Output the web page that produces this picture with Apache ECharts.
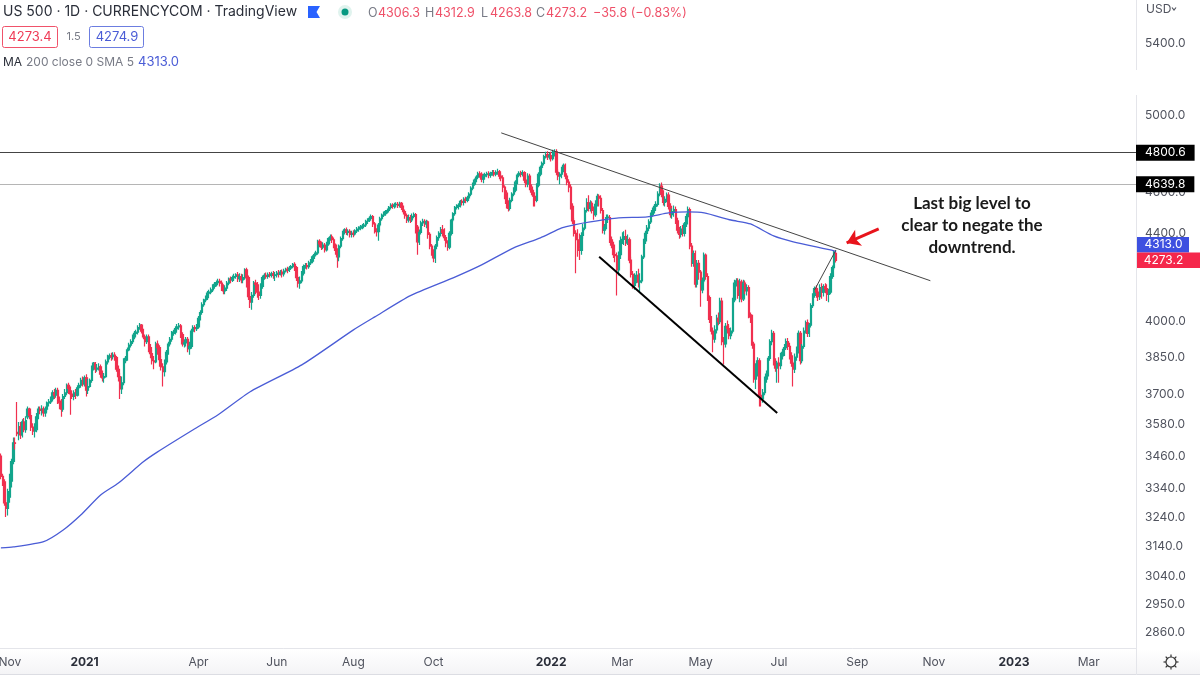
<!DOCTYPE html>
<html>
<head>
<meta charset="utf-8">
<style>html,body{margin:0;padding:0;background:#fff}#chart{width:1200px;height:675px}</style>
<script src="https://cdn.jsdelivr.net/npm/echarts@6/dist/echarts.min.js"></script>
</head>
<body>
<div id="chart"></div>
<script>
// daily candles, each row is [open, close, low, high]
const oct2020 = [[3460,3385,3375,3470],[3385,3365,3350,3395],[3365,3290,3280,3375],[3290,3270,3240,3300],[3270,3330,3245,3340]];
const nov2020 = [[3310,3368,3290,3395],[3368,3440,3345,3450],[3440,3510,3430,3530],[3510,3508,3485,3530],[3550,3545,3535,3668],[3545,3572,3520,3590],[3572,3540,3525,3590],[3540,3590,3530,3600],[3590,3560,3550,3605],[3560,3595,3548,3612],[3610,3640,3600,3650],[3640,3615,3600,3645],[3615,3570,3555,3628],[3570,3555,3540,3585],[3555,3560,3530,3585],[3560,3610,3550,3625],[3610,3640,3600,3650],[3640,3635,3620,3650],[3635,3640,3615,3655],[3640,3625,3610,3650],[3625,3640,3610,3650]];
const dec2020 = [[3640,3665,3630,3670],[3665,3669,3650,3680],[3669,3680,3660,3690],[3680,3705,3670,3715],[3705,3695,3680,3720],[3695,3715,3685,3725],[3715,3672,3660,3725],[3672,3665,3640,3690],[3665,3640,3610,3680],[3640,3690,3630,3700],[3690,3705,3680,3720],[3705,3735,3695,3742],[3735,3722,3700,3745],[3722,3700,3618,3730],[3700,3690,3680,3715],[3690,3705,3675,3715],[3705,3695,3680,3720],[3695,3725,3690,3735],[3725,3735,3720,3745],[3735,3755,3725,3765],[3755,3740,3730,3770],[3740,3765,3730,3775],[3765,3715,3690,3780]];
const jan2021 = [[3715,3730,3700,3760],[3730,3755,3725,3762],[3755,3805,3745,3815],[3805,3825,3795,3830],[3825,3800,3785,3830],[3800,3805,3790,3822],[3805,3810,3795,3825],[3810,3780,3765,3820],[3780,3765,3750,3795],[3765,3770,3745,3785],[3770,3830,3765,3840],[3830,3850,3820,3860],[3850,3855,3840,3865],[3855,3852,3835,3868],[3852,3858,3840,3870],[3858,3848,3835,3870],[3848,3800,3790,3855],[3800,3770,3750,3815],[3770,3720,3680,3785],[3720,3745,3700,3770],[3745,3835,3735,3845]];
const feb2021 = [[3835,3845,3825,3855],[3845,3880,3835,3890],[3880,3900,3875,3910],[3900,3915,3890,3925],[3915,3935,3905,3945],[3935,3950,3925,3960],[3950,3955,3940,3965],[3955,3975,3945,3985],[3975,3985,3965,3995],[3985,3960,3950,3990],[3960,3935,3925,3970],[3935,3915,3895,3945],[3915,3935,3905,3945],[3935,3890,3870,3945],[3890,3865,3845,3905],[3865,3835,3820,3880],[3835,3830,3800,3855],[3830,3905,3825,3915],[3905,3890,3860,3920],[3890,3840,3810,3900]];
const mar2021 = [[3840,3810,3795,3855],[3810,3790,3730,3825],[3790,3830,3770,3840],[3830,3870,3820,3880],[3870,3905,3860,3915],[3905,3925,3895,3935],[3925,3950,3915,3960],[3950,3955,3940,3965],[3955,3970,3945,3980],[3970,3978,3960,3990],[3978,3982,3965,3995],[3982,3945,3930,3990],[3945,3905,3895,3955],[3905,3910,3890,3925],[3910,3925,3895,3935],[3925,3885,3870,3935],[3885,3895,3860,3915],[3895,3960,3885,3970],[3960,3975,3950,3985],[3975,3970,3955,3985],[3970,3978,3960,3990],[3978,4015,3970,4025],[4015,4040,4005,4050]];
const apr2021 = [[4040,4074,4030,4085],[4074,4095,4065,4100],[4095,4105,4085,4115],[4105,4125,4095,4135],[4125,4130,4115,4140],[4130,4140,4120,4150],[4140,4155,4130,4165],[4155,4165,4145,4175],[4165,4172,4155,4182],[4172,4178,4160,4190],[4178,4170,4155,4190],[4170,4150,4135,4182],[4150,4135,4120,4165],[4135,4148,4120,4160],[4148,4170,4135,4180],[4170,4188,4160,4195],[4188,4185,4170,4200],[4185,4195,4175,4205],[4195,4200,4180,4212],[4200,4208,4190,4215],[4208,4190,4175,4220],[4190,4200,4175,4215],[4200,4185,4170,4212]];
const may2021 = [[4185,4195,4170,4210],[4195,4230,4185,4238],[4230,4195,4150,4240],[4195,4110,4095,4205],[4110,4085,4060,4125],[4085,4115,4052,4130],[4115,4170,4105,4180],[4170,4165,4120,4185],[4165,4130,4105,4175],[4130,4115,4095,4165],[4115,4155,4100,4170],[4155,4195,4145,4205],[4195,4205,4185,4215],[4205,4200,4190,4218],[4200,4208,4190,4218],[4208,4205,4195,4220],[4205,4212,4195,4222],[4212,4205,4190,4225],[4205,4208,4180,4220],[4208,4215,4195,4225],[4215,4210,4195,4230]];
const jun2021 = [[4210,4220,4205,4230],[4220,4212,4195,4232],[4212,4225,4200,4235],[4225,4232,4218,4240],[4232,4228,4215,4245],[4228,4238,4220,4248],[4238,4245,4230,4252],[4245,4255,4238,4262],[4255,4240,4225,4265],[4240,4195,4180,4248],[4195,4170,4150,4205],[4170,4180,4145,4200],[4180,4215,4170,4225],[4215,4245,4205,4255],[4245,4250,4235,4262],[4250,4245,4232,4262],[4245,4262,4235,4272],[4262,4270,4252,4280],[4270,4290,4260,4298],[4290,4300,4280,4310],[4300,4308,4292,4318]];
const jul2021 = [[4308,4362,4300,4370],[4362,4350,4335,4372],[4350,4335,4322,4362],[4335,4345,4325,4358],[4345,4322,4310,4355],[4322,4350,4315,4360],[4350,4375,4342,4382],[4375,4384,4365,4395],[4384,4370,4355,4395],[4370,4345,4330,4380],[4345,4320,4300,4352],[4320,4290,4240,4330],[4290,4340,4270,4348],[4340,4375,4330,4385],[4375,4405,4365,4412],[4405,4417,4395,4425],[4417,4405,4392,4428],[4405,4410,4390,4420],[4410,4395,4380,4420],[4395,4400,4380,4412],[4400,4398,4382,4415],[4398,4412,4390,4420]];
const aug2021 = [[4412,4420,4402,4430],[4420,4425,4408,4434],[4425,4430,4415,4440],[4430,4435,4420,4445],[4435,4440,4425,4450],[4440,4458,4430,4465],[4458,4465,4445,4472],[4465,4472,4455,4482],[4472,4480,4462,4490],[4480,4445,4430,4488],[4445,4415,4400,4455],[4415,4408,4385,4425],[4408,4440,4365,4450],[4440,4470,4430,4480],[4470,4488,4460,4495],[4488,4495,4478,4505],[4495,4505,4485,4512],[4505,4510,4495,4520],[4510,4525,4500,4532],[4525,4535,4515,4545],[4535,4530,4518,4545],[4530,4538,4520,4548]];
const sep2021 = [[4538,4540,4525,4550],[4540,4535,4522,4552],[4535,4545,4525,4553],[4545,4525,4512,4552],[4525,4505,4490,4535],[4505,4485,4470,4515],[4485,4464,4450,4495],[4464,4475,4452,4490],[4475,4465,4450,4488],[4465,4482,4455,4495],[4482,4490,4472,4500],[4490,4430,4400,4498],[4430,4360,4300,4440],[4360,4405,4345,4418],[4405,4450,4395,4460],[4450,4458,4435,4470],[4458,4445,4430,4468],[4445,4455,4425,4465],[4455,4395,4375,4462],[4395,4340,4325,4405],[4340,4310,4295,4350],[4310,4285,4265,4325]];
const oct2021 = [[4285,4340,4262,4350],[4340,4380,4325,4390],[4380,4400,4365,4410],[4400,4417,4385,4430],[4417,4405,4385,4440],[4405,4380,4365,4425],[4380,4355,4335,4392],[4355,4335,4318,4368],[4335,4400,4325,4410],[4400,4464,4390,4470],[4464,4495,4455,4502],[4495,4525,4485,4532],[4525,4530,4515,4540],[4530,4535,4515,4545],[4535,4555,4525,4562],[4555,4550,4535,4565],[4550,4565,4535,4575],[4565,4560,4545,4578],[4560,4572,4550,4582],[4572,4590,4560,4600],[4590,4620,4580,4630]];
const nov2021 = [[4620,4640,4610,4648],[4640,4660,4632,4668],[4660,4675,4650,4685],[4675,4692,4665,4702],[4692,4690,4672,4705],[4690,4665,4650,4700],[4665,4680,4645,4692],[4680,4688,4668,4698],[4688,4692,4675,4702],[4692,4685,4670,4705],[4685,4695,4672,4702],[4695,4698,4682,4712],[4698,4690,4678,4712],[4690,4700,4680,4710],[4700,4702,4688,4718],[4702,4680,4665,4712],[4680,4672,4655,4695],[4672,4625,4600,4685],[4625,4595,4565,4635],[4595,4545,4520,4610],[4545,4520,4505,4560],[4520,4560,4510,4572]];
const dec2021 = [[4560,4590,4550,4600],[4590,4610,4580,4625],[4610,4650,4600,4660],[4650,4685,4640,4695],[4685,4695,4675,4705],[4695,4690,4675,4708],[4690,4698,4678,4710],[4698,4660,4645,4705],[4660,4640,4625,4690],[4640,4680,4625,4695],[4680,4625,4610,4692],[4625,4600,4585,4640],[4600,4580,4530,4612],[4580,4560,4530,4600],[4560,4635,4550,4645],[4635,4690,4625,4700],[4690,4725,4680,4735],[4725,4745,4715,4755],[4745,4780,4735,4790],[4780,4790,4770,4805],[4790,4778,4762,4808],[4778,4785,4765,4800],[4785,4770,4755,4805]];
const jan2022 = [[4770,4790,4760,4815],[4790,4805,4780,4818],[4805,4700,4685,4818],[4700,4680,4660,4715],[4680,4690,4640,4700],[4690,4715,4670,4728],[4715,4735,4700,4745],[4735,4680,4665,4745],[4680,4650,4635,4695],[4650,4625,4600,4665],[4625,4530,4515,4640],[4530,4460,4445,4545],[4460,4400,4385,4475],[4400,4370,4215,4415],[4370,4330,4290,4420],[4330,4320,4275,4400],[4320,4390,4300,4405],[4390,4425,4375,4445],[4425,4510,4415,4525],[4510,4548,4500,4570],[4548,4520,4505,4585]];
const feb2022 = [[4520,4545,4505,4560],[4545,4510,4495,4555],[4510,4490,4465,4530],[4490,4540,4480,4560],[4540,4580,4530,4592],[4580,4570,4530,4590],[4570,4510,4495,4585],[4510,4415,4400,4522],[4415,4430,4395,4445],[4430,4475,4420,4490],[4475,4478,4450,4490],[4475,4370,4355,4488],[4370,4345,4330,4385],[4345,4300,4285,4360],[4300,4295,4265,4320],[4295,4230,4115,4310],[4230,4300,4205,4315],[4300,4365,4280,4385],[4365,4372,4350,4405],[4372,4385,4345,4410]];
const mar2022 = [[4385,4355,4340,4417],[4355,4370,4345,4395],[4370,4275,4260,4380],[4275,4210,4195,4290],[4210,4160,4145,4225],[4160,4200,4140,4215],[4200,4205,4170,4225],[4205,4175,4150,4235],[4175,4180,4130,4215],[4180,4290,4170,4300],[4290,4365,4280,4375],[4365,4400,4350,4412],[4400,4425,4385,4440],[4425,4455,4410,4468],[4455,4490,4445,4500],[4490,4510,4480,4525],[4510,4530,4495,4542],[4530,4540,4515,4555],[4540,4590,4530,4605],[4590,4630,4580,4645],[4630,4590,4575,4648],[4590,4550,4535,4610],[4550,4565,4530,4580]];
const apr2022 = [[4565,4585,4550,4598],[4585,4530,4515,4600],[4530,4490,4475,4545],[4490,4505,4470,4520],[4505,4515,4480,4535],[4515,4460,4445,4530],[4460,4415,4400,4475],[4415,4395,4375,4430],[4395,4420,4380,4435],[4420,4400,4385,4440],[4400,4445,4385,4455],[4445,4480,4430,4495],[4480,4515,4470,4530],[4515,4340,4325,4525],[4340,4260,4245,4355],[4260,4305,4245,4320],[4305,4165,4150,4320],[4165,4260,4150,4275],[4260,4220,4185,4275],[4220,4140,4065,4230],[4140,4180,4125,4195]];
const may2022 = [[4180,4298,4170,4310],[4298,4200,4185,4305],[4200,4105,4090,4215],[4105,4010,3995,4115],[4010,3960,3945,4025],[3960,3925,3870,3975],[3925,3965,3910,3985],[3965,4015,3950,4030],[4015,4000,3985,4040],[4000,4090,3990,4105],[4090,3915,3900,4105],[3915,3905,3820,3935],[3905,3980,3890,3995],[3980,3970,3950,4005],[3970,3940,3925,3990],[3940,3960,3925,3975],[3960,4095,3950,4105],[4095,4170,4085,4185],[4170,4180,4155,4192],[4180,4115,4100,4192],[4115,4175,4085,4190],[4175,4100,4085,4185]];
const jun2022 = [[4100,4170,4090,4185],[4170,4135,4120,4182],[4135,4150,4115,4165],[4150,4030,4015,4160],[4030,4020,3995,4040],[4020,3900,3885,4030],[3905,3760,3745,3915],[3760,3790,3720,3825],[3790,3835,3770,3850],[3835,3695,3650,3845],[3695,3680,3650,3725],[3680,3705,3665,3720],[3705,3760,3695,3770],[3760,3780,3745,3795],[3780,3845,3770,3855],[3845,3915,3835,3925],[3915,3950,3900,3965],[3950,3830,3815,3960],[3830,3805,3790,3845],[3805,3825,3745,3835],[3825,3815,3745,3850],[3815,3855,3800,3868]];
const jul2022 = [[3855,3870,3840,3885],[3870,3890,3855,3905],[3890,3915,3880,3928],[3915,3895,3880,3930],[3895,3855,3840,3910],[3855,3825,3810,3870],[3825,3800,3730,3835],[3800,3850,3785,3865],[3850,3880,3835,3895],[3880,3950,3865,3962],[3950,3835,3820,3960],[3835,3895,3825,3905],[3895,3960,3885,3975],[3960,3995,3950,4005],[3995,3950,3935,4010],[3950,3985,3935,3995],[3985,4070,3975,4080],[4070,4115,4060,4125],[4115,4145,4105,4155],[4145,4130,4105,4160],[4130,4110,4090,4145]];
const aug2022 = [[4110,4150,4095,4165],[4150,4130,4100,4170],[4130,4155,4110,4165],[4155,4145,4125,4170],[4145,4120,4090,4165],[4120,4130,4085,4145],[4130,4200,4120,4215],[4200,4240,4190,4250],[4240,4309,4230,4318],[4306.3,4273.2,4263.8,4312.9]];

const candles = [].concat(oct2020,nov2020,dec2020,jan2021,feb2021,mar2021,apr2021,may2021,jun2021,jul2021,aug2021,sep2021,oct2021,nov2021,dec2021,jan2022,feb2022,mar2022,apr2022,may2022,jun2022,jul2022,aug2022);

// 200 day average
const maBars = [0,7,24,35,45,56,66,80,88,108,122,140,169,198,210,230,254,270,288,303,315,322,331,347,363,375,386,395,410,421,434,445,468,469];
const maValues = [3134,3137,3155,3195,3248,3318,3361,3439,3476,3560,3618,3709,3818,3965,4021,4114,4194,4253,4332,4379,4426,4441,4455,4474,4479,4498,4503,4498,4464,4445,4388,4360,4318,4313];

// drawn trend lines, [bar, price]
const fallingTop = [[281,4904],[522,4181]];
const wedgeBottom = [[336,4290],[436,3625]];
const lastLeg = [[457,4140],[469,4322]];
const arrowFrom = [493,4421];
const arrowTo = [475,4355];

const levels = [4800.6,4639.8];
const priceTicks = [5400,5000,4600,4400,4000,3850,3700,3580,3460,3340,3240,3140,3040,2950,2860];
const timeBars = [5,47,111,155,198,243,309,349,393,437,481,524,569,611];
const timeLabels = ['Nov','2021','Apr','Jun','Aug','Oct','2022','Mar','May','Jul','Sep','Nov','2023','Mar'];
const noteLines = ['Last big level to','clear to negate the','downtrend.'];

const slots = [];
for (let i = 0; i < 638; i++) slots.push(String(i));

const UP = '#12a58c', DOWN = '#f0304f', MA = '#4a5cd6';
const FONT = 'Inter, "Noto Sans", sans-serif';

function txt(x, y, text, size, fill, extra) {
  return {type:'text', x:x, y:y, z:20, style:Object.assign({text:text, font:size+'px '+FONT, fill:fill, textVerticalAlign:'middle'}, extra||{})};
}
function badge(x, y, w, h, bg, text) {
  return [
    {type:'rect', z:20, shape:{x:x,y:y,width:w,height:h}, style:{fill:bg}},
    txt(x+26.5, y+h/2, text, 12, '#fff', {textAlign:'center'})
  ];
}
function gear(cx, cy) {
  const parts = [{type:'circle', z:20, shape:{cx:cx,cy:cy,r:5}, style:{fill:'none',stroke:'#333',lineWidth:1.2}}];
  for (let a = 0; a < 8; a++) {
    const t = a*Math.PI/4;
    parts.push({type:'line', z:20, shape:{x1:cx+5*Math.cos(t),y1:cy+5*Math.sin(t),x2:cx+7.5*Math.cos(t),y2:cy+7.5*Math.sin(t)}, style:{stroke:'#333',lineWidth:1.2}});
  }
  return parts;
}

const graphics = [
  // bottom strip
  {type:'rect', z:-1, shape:{x:0,y:649,width:1200,height:25}, style:{fill:{type:'linear',x:0,y:0,x2:0,y2:1,colorStops:[{offset:0,color:'#ffffff'},{offset:1,color:'#f4f4f6'}]}}},
  {type:'line', z:1, shape:{x1:0,y1:674.5,x2:1200,y2:674.5}, style:{stroke:'#dcdde3',lineWidth:1}},
  // price scale border, broken where the picture is blanked
  {type:'line', z:1, shape:{x1:1136.5,y1:0,x2:1136.5,y2:70}, style:{stroke:'#e4e5ea',lineWidth:1}},
  {type:'line', z:1, shape:{x1:1136.5,y1:95,x2:1136.5,y2:675}, style:{stroke:'#e4e5ea',lineWidth:1}},
  // header
  txt(3, 12, 'US 500 · 1D · CURRENCYCOM · TradingView', 14, '#2a2e39'),
  {type:'polygon', z:20, shape:{points:[[308,6],[320,6],[316.5,12],[320,18],[308,18]]}, style:{fill:'#2962ff'}},
  {type:'circle', z:20, shape:{cx:345,cy:12,r:7}, style:{fill:'#e0f3ee'}},
  {type:'circle', z:20, shape:{cx:345,cy:12,r:3.5}, style:{fill:'#089981'}},
  txt(368, 13, 'O', 12.5, '#787b86'), txt(378, 13, '4306.3', 12.5, '#ef5068'),
  txt(425, 13, 'H', 12.5, '#787b86'), txt(435, 13, '4312.9', 12.5, '#ef5068'),
  txt(481, 13, 'L', 12.5, '#787b86'), txt(490, 13, '4263.8', 12.5, '#ef5068'),
  txt(536, 13, 'C', 12.5, '#787b86'), txt(546, 13, '4273.2', 12.5, '#ef5068'),
  txt(593, 13, '−35.8 (−0.83%)', 12.5, '#ef5068'),
  {type:'rect', z:20, shape:{x:2.5,y:26.5,width:55,height:21,r:2}, style:{fill:'#fff',stroke:'#f0526a',lineWidth:1}},
  txt(30, 37.5, '4273.4', 13, '#ef3a56', {textAlign:'center'}),
  txt(73.5, 37, '1.5', 11, '#787b86', {textAlign:'center'}),
  {type:'rect', z:20, shape:{x:89.5,y:26.5,width:54,height:21,r:2}, style:{fill:'#fff',stroke:'#6c7de0',lineWidth:1}},
  txt(117, 37.5, '4274.9', 13, '#4a5cd6', {textAlign:'center'}),
  txt(3, 62.5, 'MA', 12, '#2a2e39'),
  txt(26, 62.5, '200 close 0 SMA 5', 12, '#787b86'),
  txt(138, 62.5, '4313.0', 13, '#4a5cd6'),
  // scale top and gear
  txt(1146, 9, 'USD', 12, '#50535e'),
  {type:'polyline', z:20, shape:{points:[[1172,7.5],[1174,10],[1176,7.5]]}, style:{stroke:'#50535e',fill:'none',lineWidth:1.2}},
].concat(
  badge(1137, 237, 52, 15.5, '#3d50e0', '4313.0'),
  badge(1137, 252.5, 63, 15.5, '#f5274b', '4273.2'),
  gear(1171, 662),
  noteLines.map((line, i) => ({type:'text', x:972, y:204+i*22, z:20, style:{text:line, font:'bold 17px Lato, sans-serif', fill:'#1a1a1a', textAlign:'center', textVerticalAlign:'middle'}}))
);

function trend(points, width, color) {
  return {type:'line', data:points, showSymbol:false, symbol:'none', silent:true, z:6, lineStyle:{width:width, color:color}};
}

const chart = echarts.init(document.getElementById('chart'));
chart.setOption({
  animation:false,
  backgroundColor:'#fff',
  grid:{left:0, right:64, top:0, bottom:27, outerBoundsMode:'none'},
  xAxis:{
    type:'category', data:slots, boundaryGap:true,
    axisLine:{lineStyle:{color:'#e4e5ea'}}, axisTick:{show:false}, splitLine:{show:false},
    axisLabel:{
      margin:8, fontFamily:'Inter', fontSize:12, color:'#50535e', hideOverlap:false,
      interval:(i) => timeBars.indexOf(i) >= 0,
      formatter:(v) => {
        const t = timeLabels[timeBars.indexOf(Number(v))];
        return /^\d+$/.test(t) ? '{year|'+t+'}' : t;
      },
      rich:{year:{fontFamily:'Inter', fontSize:12, fontWeight:'bold', color:'#2a2e39'}}
    }
  },
  yAxis:{
    type:'log', logBase:10, position:'right', min:2813, max:5660,
    axisLine:{show:false}, axisTick:{show:false}, splitLine:{show:false}, minorTick:{show:false},
    axisLabel:{customValues:priceTicks, margin:9, fontFamily:'Inter', fontSize:12, color:'#50535e', formatter:(v) => Number(v).toFixed(1), showMinLabel:true, showMaxLabel:true}
  },
  graphic:graphics,
  series:[
    {
      type:'candlestick', data:candles, barWidth:1.8, z:3, silent:true,
      itemStyle:{color:UP, color0:DOWN, borderColor:UP, borderColor0:DOWN, borderWidth:1.2},
      markLine:{
        silent:true, symbol:'none', animation:false, z:2,
        data:[
          {yAxis:levels[0], lineStyle:{color:'#444', width:1, type:'solid'}},
          {yAxis:levels[1], lineStyle:{color:'#b5b5b5', width:1, type:'solid'}}
        ],
        label:{position:'end', distance:0, formatter:(p) => p.value.toFixed(1), color:'#fff', backgroundColor:'#000', fontFamily:'Inter', fontSize:12, padding:[2,9,2,9]}
      }
    },
    {
      type:'line', data:maBars.map((b, i) => [b, maValues[i]]), showSymbol:false, symbol:'none', smooth:0.2, silent:true, z:4,
      lineStyle:{width:1.3, color:MA}
    },
    trend(fallingTop, 1, '#444'),
    trend(wedgeBottom, 2, '#000'),
    trend(lastLeg, 1, '#444'),
    {
      type:'line', data:[], silent:true, z:7,
      markLine:{
        silent:true, animation:false, symbol:['none','arrow'], symbolSize:13, label:{show:false},
        lineStyle:{color:'#e8141c', width:3, type:'solid'},
        data:[[{coord:arrowFrom},{coord:arrowTo}]]
      }
    }
  ]
});
</script>
</body>
</html>
